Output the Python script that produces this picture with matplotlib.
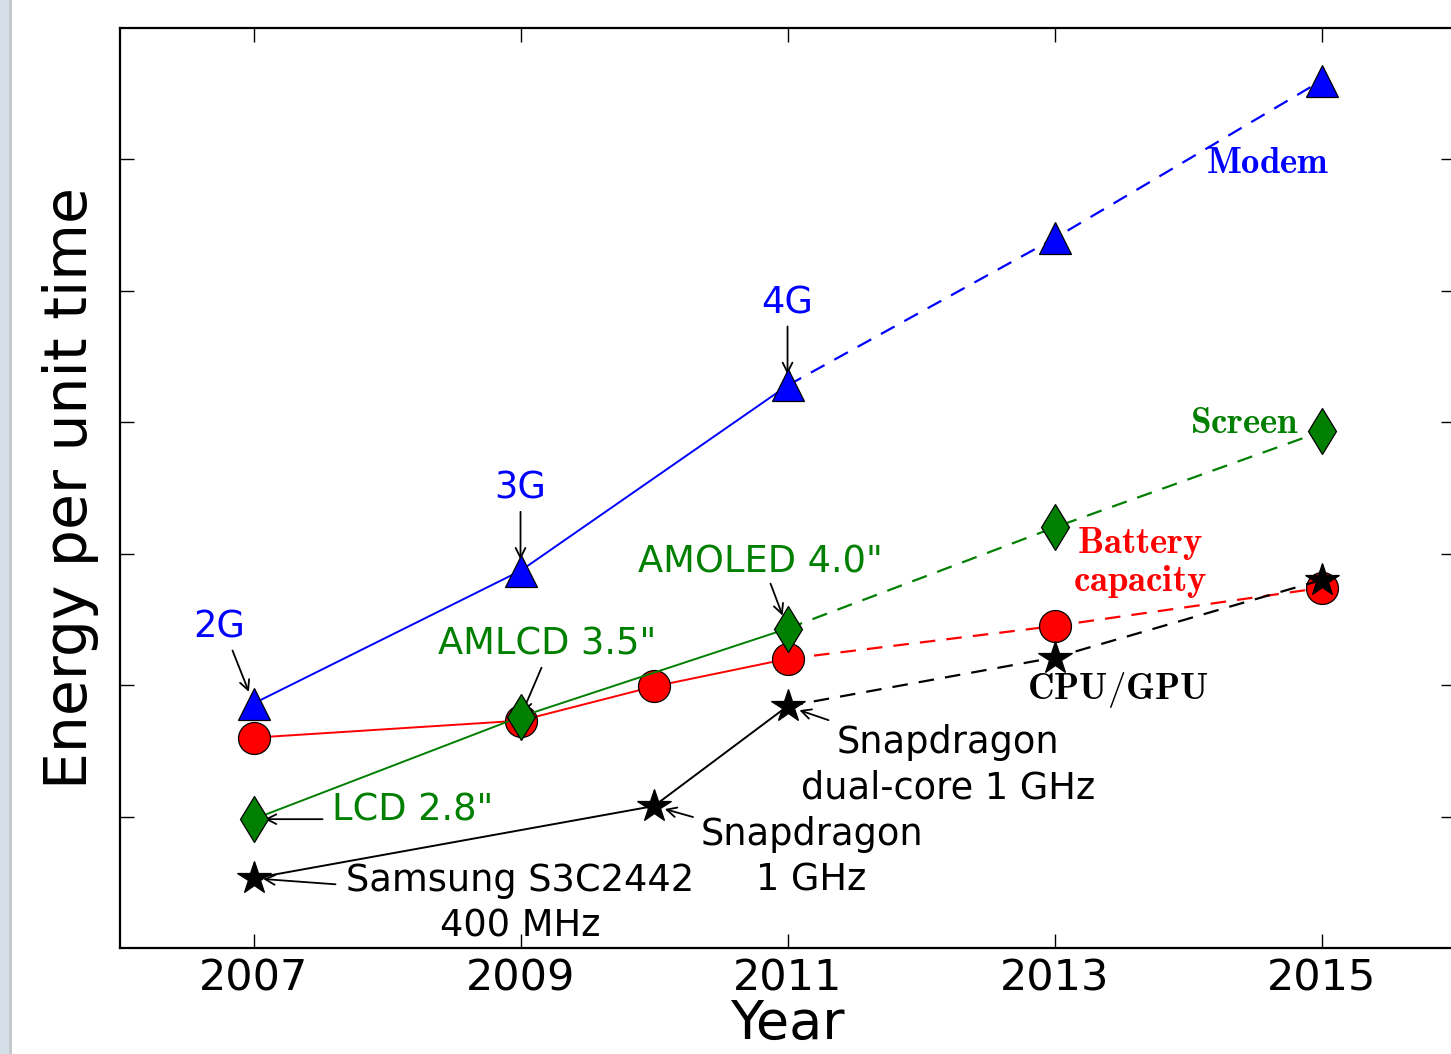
import matplotlib
matplotlib.use("Agg")
import matplotlib.pyplot as plt
from matplotlib.patches import Rectangle

plt.rcParams['font.family'] = ['DejaVu Sans']
plt.rcParams['mathtext.fontset'] = 'cm'

# Energy-per-unit-time trends (arbitrary units); measured up to 2011, projected after
modem_years = [2007, 2009, 2011, 2013, 2015]
modem_vals = [1.86, 2.87, 4.28, 5.40, 6.60]

screen_years = [2007, 2009, 2011, 2013, 2015]
screen_vals = [0.98, 1.76, 2.43, 3.20, 3.93]

battery_years = [2007, 2009, 2010, 2011, 2013, 2015]
battery_vals = [1.60, 1.73, 1.99, 2.20, 2.45, 2.74]

cpu_years = [2007, 2010, 2011, 2013, 2015]
cpu_vals = [0.53, 1.08, 1.84, 2.21, 2.80]

last_measured = 2011
year_ticks = [2007, 2009, 2011, 2013, 2015]
energy_ticks = [1, 2, 3, 4, 5, 6]

fig = plt.figure(figsize=(14.51, 10.54), dpi=100)
fig.patches.append(Rectangle((0, 0), 0.0065, 1, transform=fig.transFigure,
                             facecolor='#d6deea', edgecolor='none', zorder=0))
fig.patches.append(Rectangle((0.0065, 0), 0.0015, 1, transform=fig.transFigure,
                             facecolor='#c4c8cc', edgecolor='none', zorder=0))
ax = fig.add_axes([0.0827, 0.1006, 0.9201, 0.8728])


def plot_series(years, vals, color, marker, ms, z):
    solid_x = [x for x in years if x <= last_measured]
    solid_y = vals[:len(solid_x)]
    dash_x = [x for x in years if x >= last_measured]
    dash_y = vals[len(solid_x) - 1:]
    ax.plot(solid_x, solid_y, '-', color=color, lw=1.4, zorder=z)
    ax.plot(dash_x, dash_y, '--', color=color, lw=1.6, dashes=(7, 5), zorder=z)
    ax.plot(years, vals, linestyle='none', marker=marker, ms=ms, mfc=color,
            mec='black', mew=0.9, zorder=z + 0.5)


plot_series(modem_years, modem_vals, '#0000ff', '^', 23, 3)
plot_series(battery_years, battery_vals, '#ff0000', 'o', 23, 4)
plot_series(screen_years, screen_vals, '#007f00', 'd', 23, 5)
plot_series(cpu_years, cpu_vals, '#000000', '*', 25, 6)

ax.set_xlim(2006, 2016)
ax.set_ylim(0, 7)
ax.set_xticks(year_ticks)
ax.set_xticklabels([str(y) for y in year_ticks])
ax.set_yticks(energy_ticks)
ax.set_yticklabels([])
ax.tick_params(direction='in', length=10, width=1.0, top=True, right=True,
               labelsize=31, pad=7)
for s in ax.spines.values():
    s.set_linewidth(1.6)
ax.set_xlabel('Year', fontsize=39, labelpad=-1)
ax.set_ylabel('Energy per unit time', fontsize=42, labelpad=8)

fs = 26.5
arrow = dict(arrowstyle='->,head_length=0.7,head_width=0.35', color='black',
             lw=1.3, shrinkA=0)


def note(point, tail_px, shrink):
    ax.annotate('', xy=point, xytext=tail_px, textcoords='offset pixels',
                arrowprops=dict(arrow, shrinkB=shrink))


# Modem generations
ax.text(2006.74, 2.44, '2G', color='#0000ff', fontsize=fs, ha='center', va='center')
note((modem_years[0], modem_vals[0]), (-21, 53), 9)
ax.text(2009.0, 3.50, '3G', color='#0000ff', fontsize=fs, ha='center', va='center')
note((modem_years[1], modem_vals[1]), (0, 59), 8)
ax.text(2011.0, 4.91, '4G', color='#0000ff', fontsize=fs, ha='center', va='center')
note((modem_years[2], modem_vals[2]), (0, 59), 8)

# Screens
ax.text(2008.19, 1.05, 'LCD 2.8"', color='#007f00', fontsize=fs, ha='center', va='center')
note((screen_years[0], screen_vals[0]), (69, 0), 8)
ax.text(2009.20, 2.31, 'AMLCD 3.5"', color='#007f00', fontsize=fs, ha='center', va='center')
note((screen_years[1], screen_vals[1]), (21, 49), 3)
ax.text(2010.80, 2.94, 'AMOLED 4.0"', color='#007f00', fontsize=fs, ha='center', va='center')
note((screen_years[2], screen_vals[2]), (-17, 45), 10)

# Processors
ax.text(2009.0, 0.34, 'Samsung S3C2442\n400 MHz', color='black', fontsize=fs,
        ha='center', va='center', multialignment='center', linespacing=1.3)
note((cpu_years[0], cpu_vals[0]), (82, -6), 7)
ax.text(2011.18, 0.69, 'Snapdragon\n1 GHz', color='black', fontsize=fs,
        ha='center', va='center', multialignment='center', linespacing=1.3)
note((cpu_years[1], cpu_vals[1]), (39, -11), 8)
ax.text(2012.20, 1.39, 'Snapdragon\ndual-core 1 GHz', color='black', fontsize=fs,
        ha='center', va='center', multialignment='center', linespacing=1.3)
note((cpu_years[2], cpu_vals[2]), (41, -14), 9)

# Series names
sfs = 26.5
ax.text(2014.60, 5.98, r'$\mathbf{Modem}$', color='#0000ff', fontsize=sfs, ha='center', va='center')
ax.text(2014.42, 4.00, r'$\mathbf{Screen}$', color='#007f00', fontsize=sfs, ha='center', va='center')
ax.text(2013.64, 2.93, r'$\mathbf{Battery}$' + '\n' + r'$\mathbf{capacity}$', color='#ff0000',
        fontsize=sfs, ha='center', va='center', multialignment='center', linespacing=1.0)
ax.text(2013.47, 1.96, r'$\mathbf{CPU/GPU}$', color='black', fontsize=sfs, ha='center', va='center')

fig.savefig('out.png', dpi=100)
